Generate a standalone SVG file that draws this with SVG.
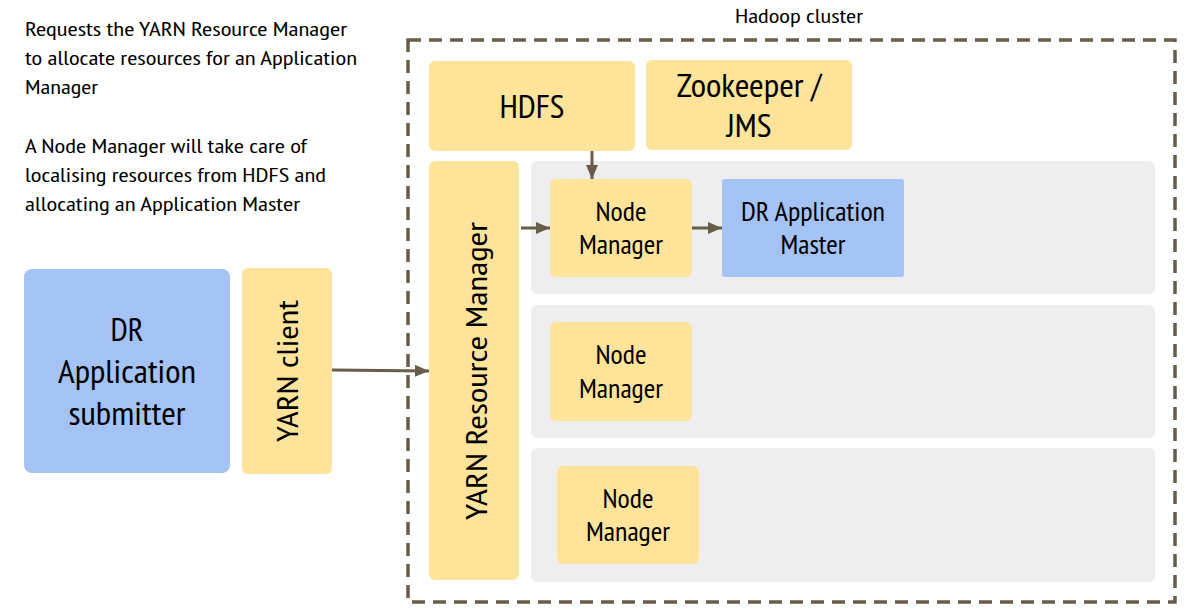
<svg xmlns="http://www.w3.org/2000/svg" width="1188" height="615" viewBox="0 0 1188 615">
<style>
text{font-family:"PT Sans Narrow","Liberation Sans Narrow","DejaVu Sans Condensed","Liberation Sans",sans-serif;fill:#000}
.y{fill:#fee49b}
.b{fill:#a4c2f4}
.g{fill:#eeeeee}
.c{text-anchor:middle}
.conn{stroke:#675d48;stroke-width:3;fill:none;marker-end:url(#ah)}
</style>
<defs>
<marker id="ah" markerWidth="14" markerHeight="12" refX="14" refY="6" orient="auto" markerUnits="userSpaceOnUse"><path d="M0,0 L14,6 L0,12 z" fill="#675d48"/></marker>
</defs>
<rect width="1188" height="615" fill="#fff"/>
<g id="notes" font-size="20">
<text x="25" y="36" textLength="322" lengthAdjust="spacingAndGlyphs">Requests the YARN Resource Manager</text>
<text x="25" y="65" textLength="332" lengthAdjust="spacingAndGlyphs">to allocate resources for an Application</text>
<text x="25" y="94" textLength="73" lengthAdjust="spacingAndGlyphs">Manager</text>
<text x="25" y="153" textLength="282" lengthAdjust="spacingAndGlyphs">A Node Manager will take care of</text>
<text x="25" y="182" textLength="301" lengthAdjust="spacingAndGlyphs">localising resources from HDFS and</text>
<text x="25" y="211" textLength="275" lengthAdjust="spacingAndGlyphs">allocating an Application Master</text>
</g>
<g id="cluster">
<rect x="408" y="40" width="767" height="562" fill="none" stroke="#675d48" stroke-width="3.5" stroke-dasharray="13,8"/>
<text class="c" x="799" y="23" font-size="20" textLength="128" lengthAdjust="spacingAndGlyphs">Hadoop cluster</text>
</g>
<g id="rows">
<rect class="g" x="531" y="161" width="624" height="133" rx="6"/>
<rect class="g" x="531" y="305" width="624" height="133" rx="6"/>
<rect class="g" x="531" y="448" width="624" height="134" rx="6"/>
</g>
<g id="submitter">
<rect class="b" x="24" y="269" width="206" height="204" rx="8"/>
<text class="c" x="127" y="341" font-size="32" textLength="33" lengthAdjust="spacingAndGlyphs">DR</text>
<text class="c" x="127" y="383" font-size="32" textLength="138" lengthAdjust="spacingAndGlyphs">Application</text>
<text class="c" x="127" y="425" font-size="32" textLength="117" lengthAdjust="spacingAndGlyphs">submitter</text>
</g>
<g id="yarn-client">
<rect class="y" x="242" y="268" width="90" height="206" rx="6"/>
<text class="c" transform="translate(298,371) rotate(-90)" font-size="30" textLength="142" lengthAdjust="spacingAndGlyphs">YARN client</text>
</g>
<g id="hdfs">
<rect class="y" x="429" y="61" width="206" height="90" rx="6"/>
<text class="c" x="532" y="118" font-size="32" textLength="65" lengthAdjust="spacingAndGlyphs">HDFS</text>
</g>
<g id="zookeeper">
<rect class="y" x="646" y="60" width="206" height="90" rx="6"/>
<text class="c" x="749" y="97" font-size="32" textLength="145" lengthAdjust="spacingAndGlyphs">Zookeeper /</text>
<text class="c" x="749" y="137" font-size="32" textLength="45" lengthAdjust="spacingAndGlyphs">JMS</text>
</g>
<g id="resource-manager">
<rect class="y" x="429" y="161" width="90" height="419" rx="6"/>
<text class="c" transform="translate(487,371) rotate(-90)" font-size="30" textLength="298" lengthAdjust="spacingAndGlyphs">YARN Resource Manager</text>
</g>
<g id="node-manager-1">
<rect class="y" x="550" y="179" width="142" height="98" rx="6"/>
<text class="c" x="621" y="221" font-size="27" textLength="51" lengthAdjust="spacingAndGlyphs">Node</text>
<text class="c" x="621" y="254" font-size="27" textLength="84" lengthAdjust="spacingAndGlyphs">Manager</text>
</g>
<g id="app-master">
<rect class="b" x="722" y="179" width="182" height="98" rx="3"/>
<text class="c" x="813" y="221" font-size="27" textLength="144" lengthAdjust="spacingAndGlyphs">DR Application</text>
<text class="c" x="813" y="254" font-size="27" textLength="65" lengthAdjust="spacingAndGlyphs">Master</text>
</g>
<g id="node-manager-2">
<rect class="y" x="550" y="322" width="142" height="99" rx="6"/>
<text class="c" x="621" y="364" font-size="27" textLength="51" lengthAdjust="spacingAndGlyphs">Node</text>
<text class="c" x="621" y="398" font-size="27" textLength="84" lengthAdjust="spacingAndGlyphs">Manager</text>
</g>
<g id="node-manager-3">
<rect class="y" x="557" y="466" width="142" height="98" rx="6"/>
<text class="c" x="628" y="508" font-size="27" textLength="51" lengthAdjust="spacingAndGlyphs">Node</text>
<text class="c" x="628" y="541" font-size="27" textLength="84" lengthAdjust="spacingAndGlyphs">Manager</text>
</g>
<g id="connectors">
<path class="conn" d="M332,370 L429,371"/>
<path class="conn" d="M592,151 L592,179"/>
<path class="conn" d="M521,228 L550,228"/>
<path class="conn" d="M692,228 L722,228"/>
</g>
</svg>
